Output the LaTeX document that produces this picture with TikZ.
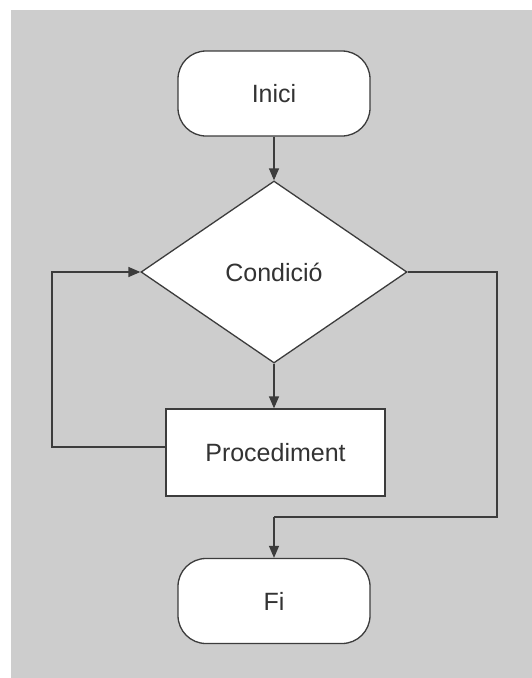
\documentclass[tikz,border=0pt]{standalone}
\usepackage{fontspec}
\setmainfont{Liberation Sans}
\usetikzlibrary{shapes.geometric,arrows.meta}
\definecolor{bggray}{HTML}{CDCDCD}
\definecolor{linegray}{HTML}{3C3C3C}
\definecolor{textgray}{HTML}{333333}
\tikzset{
  base/.style={draw=linegray, line width=1.3pt, fill=white, text=textgray,
    font=\fontsize{25}{30}\selectfont, inner sep=0pt},
  terminal/.style={base, rectangle, rounded corners=28pt, minimum width=192pt, minimum height=85pt},
  process/.style={base, rectangle, minimum width=219pt, minimum height=87pt},
  decision/.style={base, diamond, minimum width=266pt, minimum height=182pt},
  conn/.style={draw=linegray, line width=1.3pt},
  arr/.style={conn, -{Triangle[length=12pt,width=10pt]}}
}
\begin{document}
\begin{tikzpicture}[x=1pt,y=-1pt]
\useasboundingbox (0,0) rectangle (532,678);
\fill[bggray] (11,10) rectangle (532,678);
\node[terminal] (inici) at (274,93.5) {Inici};
\node[decision] (cond) at (274,272) {Condició};
\node[process] (proc) at (275.5,452.5) {Procediment};
\node[terminal] (fi) at (274,601) {Fi};
\coordinate (pl) at (166,447);
\coordinate (lt) at (52,447);
\coordinate (lb) at (52,272);
\coordinate (rt) at (497,272);
\coordinate (rb) at (497,517);
\coordinate (fb) at (274,517);
\draw[arr] (inici.south) -- (cond.north);
\draw[arr] (cond.south) -- (cond.south |- proc.north);
\draw[arr] (pl) -- (lt) -- (lb) -- (cond.west);
\draw[conn] (cond.east) -- (rt) -- (rb) -- (fb);
\draw[arr] (fb) -- (fi.north);
\end{tikzpicture}
\end{document}
